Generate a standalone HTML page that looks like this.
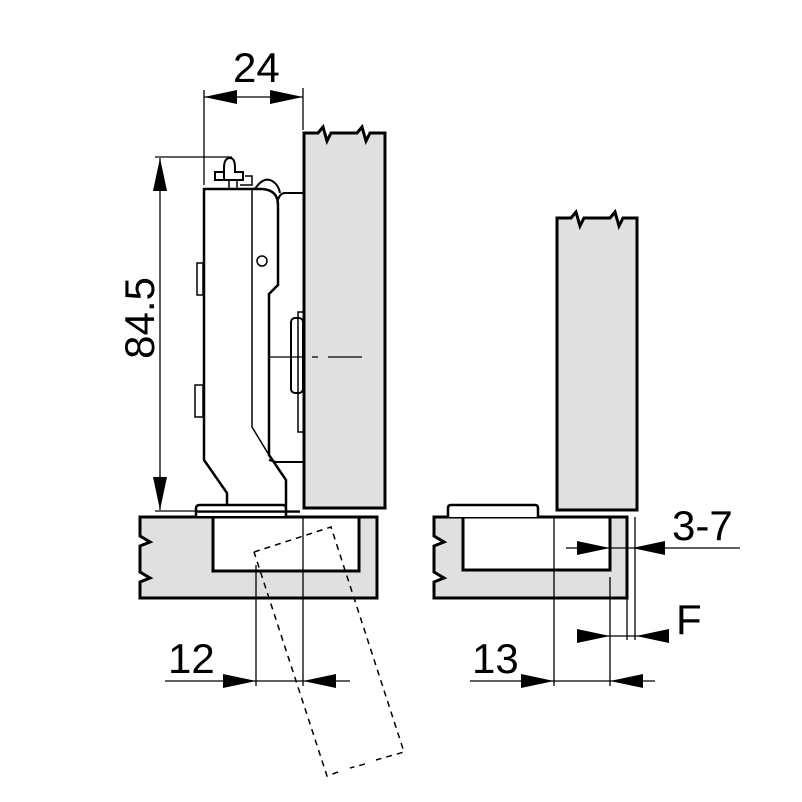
<!DOCTYPE html>
<html><head><style>body{margin:0;background:#fff}svg{display:block}</style></head><body>
<svg width="802" height="802" viewBox="0 0 802 802" xmlns="http://www.w3.org/2000/svg" font-family="Liberation Sans, sans-serif">
<g stroke="#000" fill="none">
<!-- left door -->
<path d="M304,508 V133 H318 L323,127 L327,141 L331,133 H357 L362,127 L366,141 L370,133 H385 V508 Z" fill="#e0e0e0" stroke-width="3"/>
<!-- right door -->
<path d="M557,510 V218 H571 L576,212 L580,226 L584,218 H610 L615,212 L619,226 L623,218 H637 V510 Z" fill="#e0e0e0" stroke-width="3"/>
<!-- left cabinet -->
<path d="M140,517 H377 V598 H140 V582 L150,578 L140,572 V546 L150,542 L140,536 Z" fill="#e0e0e0" stroke-width="3"/>
<rect x="213" y="517" width="146" height="54" fill="#fff" stroke-width="3"/>
<!-- right cabinet -->
<path d="M434,517 H627 V598 H434 V582 L444,578 L434,572 V546 L444,542 L434,536 Z" fill="#e0e0e0" stroke-width="3"/>
<rect x="463" y="517" width="147" height="53" fill="#fff" stroke-width="3"/>
<path d="M448,517 V508 Q448,505 451,505 H535 Q538,505 538,508 V517" fill="#fff" stroke-width="2.5"/>
<!-- hinge -->
<path d="M204,189 V460 L227,493 V506 H286 V480 L269,455 V294 L278,285 V205 Q278,190 262,189 Z" fill="#fff" stroke-width="2.5"/>
<path d="M252,189 V427 L269,455" stroke-width="1.5"/>
<path d="M278,200 Q280,193 285,193 H304 M269,460 L276,462 H304" stroke-width="2"/>
<path d="M255,189 Q262,178 270,180 Q278,183 280,193" stroke-width="2"/>
<rect x="291" y="318" width="12" height="75" rx="4" stroke-width="2"/>
<rect x="298" y="312" width="6" height="120" stroke-width="1.5"/>
<rect x="197" y="263" width="6" height="32" stroke-width="1.5"/>
<rect x="195" y="385" width="8" height="32" stroke-width="1.5"/>
<circle cx="262" cy="261" r="5" stroke-width="1.5"/>
<path d="M196,516 V508 Q196,505 200,505 H283 Q286,505 286,508 V516" fill="#fff" stroke-width="2.5"/>
<path d="M195,512 H300" stroke-width="1.5"/>
<!-- top knob -->
<path d="M224,180 V168 Q224,158 230,158 Q235,158 235,168 V172 H243 V180 H215 V172 H224" fill="#fff" stroke-width="2"/>
<path d="M229,180 V189 M237,180 V189 M245,176 H252 V185 H240" stroke-width="1.5"/>
<path d="M268,357 H304 M312,357 H318 M328,357 H362" stroke-width="1.3"/>
<!-- dashed door -->
<path d="M254,552 L331,527 L404,752 L376,760 M365,764 L350,768 M338,772 L327,776 L254,552" stroke-width="1.5" stroke-dasharray="6,5"/>
<!-- dimension lines -->
<g stroke-width="1.3">
<path d="M204,90 V185 M303,88 V130 M204,97 H303"/>
<path d="M155,157 H232 M160,158 V510 M155,511 H300"/>
<path d="M256,565 V686 M303,517 V686 M165,681 H350"/>
<path d="M554,517 V686 M610,577 V686 M470,681 H655"/>
<path d="M566,548 H740 M627,517 V640 M635,517 V640 M580,636 H668"/>
</g>
</g>
<g fill="#000">
<path d="M204,97 L237,90 V104 Z M303,97 L270,90 V104 Z"/>
<path d="M160,158 L153,191 H167 Z M160,510 L153,477 H167 Z"/>
<path d="M256,681 L223,674 V688 Z M303,681 L336,674 V688 Z"/>
<path d="M554,681 L521,674 V688 Z M610,681 L643,674 V688 Z"/>
<path d="M610,548 L577,541 V555 Z M632,548 L665,541 V555 Z"/>
<path d="M610,636 L577,629 V643 Z M636,636 L669,629 V643 Z"/>
</g>
<g font-size="42" fill="#000">
<text x="233" y="82">24</text>
<text x="168" y="673">12</text>
<text x="472" y="673">13</text>
<text x="672" y="540">3-7</text>
<text x="676" y="634">F</text>
<text transform="translate(154,318) rotate(-90)" text-anchor="middle">84.5</text>
</g>
</svg>
</body></html>
